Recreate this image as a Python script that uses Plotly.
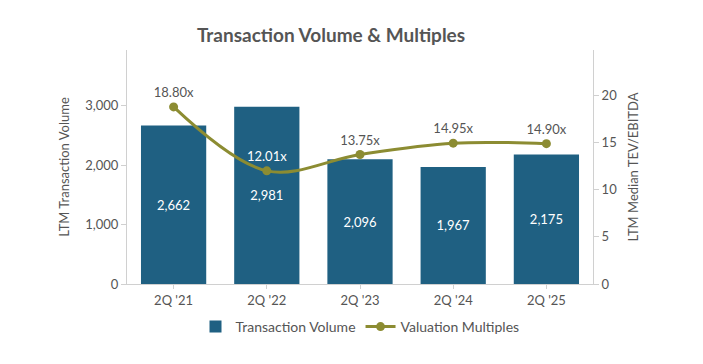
import plotly.graph_objects as go

categories = ["2Q '21", "2Q '22", "2Q '23", "2Q '24", "2Q '25"]
volume = [2662, 2981, 2096, 1967, 2175]
multiples = [18.80, 12.01, 13.75, 14.95, 14.90]
volume_labels = [f"{v:,}" for v in volume]
multiple_labels = [f"{m:.2f}x" for m in multiples]
multiple_label_colors = ["#555555", "#ffffff", "#555555", "#555555", "#555555"]

BAR = "#1f6082"
LINE = "#8c8c32"
TXT = "#555555"
FONT = "Lato"

# page body has an 8px default margin; figure sized to fit the 703x364 window
W, H = 687, 348
OFF = 8

fig = go.Figure()
fig.add_trace(go.Bar(
    x=categories, y=volume, name="Transaction Volume",
    marker=dict(color=BAR, line=dict(width=0)),
    text=volume_labels, textposition="inside", insidetextanchor="middle",
    textfont=dict(color="#ffffff", size=13, family=FONT),
    yaxis="y",
))
fig.add_trace(go.Scatter(
    x=categories, y=multiples, name="Valuation Multiples",
    mode="lines+markers+text",
    line=dict(color=LINE, width=3, shape="spline"),
    marker=dict(color=LINE, size=9),
    text=multiple_labels, textposition="top center",
    textfont=dict(color=multiple_label_colors, size=13, family=FONT),
    yaxis="y2",
))

fig.update_layout(
    width=W, height=H,
    margin=dict(l=127 - OFF, r=W - (593 - OFF), t=50 - OFF, b=H - (284 - OFF), autoexpand=False),
    paper_bgcolor="white", plot_bgcolor="white",
    font=dict(family=FONT, color=TXT, size=13),
    title=dict(text="<b>Transaction Volume & Multiples</b>", x=(331 - OFF) / W, xref="container",
               xanchor="center", y=1 - (35 - OFF) / H, yref="container", yanchor="middle",
               font=dict(size=19, color=TXT, family=FONT)),
    bargap=0.3,
    showlegend=True,
    legend=dict(orientation="h", x=0.5, xanchor="center", y=-(327 - 284) / 234, yanchor="middle",
                font=dict(size=14, color=TXT, family=FONT), itemwidth=30),
    xaxis=dict(showgrid=False, showline=True, linecolor="#d0d0d0", ticks="outside",
               tickcolor="#d0d0d0", ticklen=4, tickfont=dict(size=13, color=TXT)),
    yaxis=dict(range=[0, 3933], dtick=1000, tickformat=",", showgrid=False, zeroline=False,
               showline=True, linecolor="#d0d0d0", ticks="outside", tickcolor="#d0d0d0",
               ticklen=5, tickfont=dict(size=13, color=TXT),
               title=dict(text="LTM Transaction Volume", font=dict(size=13, color=TXT), standoff=12)),
    yaxis2=dict(range=[0, 24.84], dtick=5, overlaying="y", side="right", showgrid=False,
                zeroline=False, showline=True, linecolor="#d0d0d0", ticks="outside",
                tickcolor="#d0d0d0", ticklen=5, tickfont=dict(size=13, color=TXT),
                title=dict(text="LTM Median TEV/EBITDA", font=dict(size=13, color=TXT), standoff=12)),
)

fig.write_html("out.html")
